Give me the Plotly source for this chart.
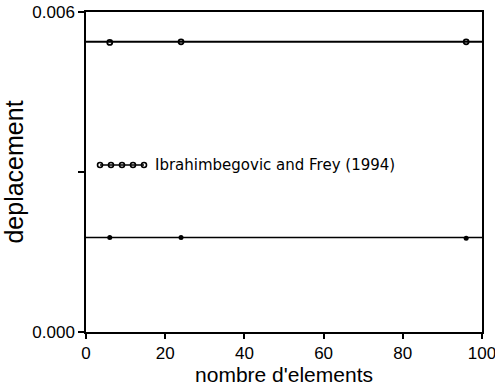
import plotly.graph_objects as go

# Data
n_elements = [6, 24, 96]
depl_upper = [0.00543, 0.00544, 0.00544]
depl_lower = [0.00177, 0.00177, 0.00176]
ref_upper = 0.00544
ref_lower = 0.00177
x_range = [0, 100]
y_range = [0, 0.006]
x_ticks = [0, 20, 40, 60, 80, 100]
y_ticks = [0, 0.003, 0.006]
y_ticktext = ["0.000", "", "0.006"]
legend_label = "Ibrahimbegovic and Frey (1994)"

fig = go.Figure()

# reference horizontal lines across full width
fig.add_trace(go.Scatter(x=x_range, y=[ref_upper, ref_upper], mode="lines",
                         line=dict(color="black", width=2), showlegend=False))
fig.add_trace(go.Scatter(x=x_range, y=[ref_lower, ref_lower], mode="lines",
                         line=dict(color="black", width=1.5), showlegend=False))
# data points
fig.add_trace(go.Scatter(x=n_elements, y=depl_upper, mode="markers",
                         marker=dict(symbol="circle-open", size=5, color="black",
                                     line=dict(width=1.8, color="black")),
                         showlegend=False))
fig.add_trace(go.Scatter(x=n_elements, y=depl_lower, mode="markers",
                         marker=dict(symbol="circle", size=5, color="black"),
                         showlegend=False))

# manual legend sample on overlay axes
leg_x = [0.0354, 0.0631, 0.0909, 0.1187, 0.1465]
leg_y = [0.522] * 5
fig.add_trace(go.Scatter(x=leg_x, y=leg_y, mode="lines+markers", xaxis="x2", yaxis="y2",
                         line=dict(color="black", width=1.5),
                         marker=dict(symbol="circle-open", size=5, color="black",
                                     line=dict(width=1.6, color="black")),
                         showlegend=False))

fig.add_annotation(x=0.169, y=0.522, xref="paper", yref="paper", text=legend_label,
                   showarrow=False, xanchor="left", yanchor="middle",
                   font=dict(family="DejaVu Sans", size=15, color="black"))

fig.update_layout(
    width=495, height=386,
    margin=dict(l=86, r=13, t=12, b=54),
    paper_bgcolor="white", plot_bgcolor="white",
    font=dict(family="Liberation Sans", color="black"),
    xaxis=dict(range=x_range, tickvals=x_ticks, ticks="outside", ticklen=5,
               tickwidth=1.5, tickcolor="black", showgrid=False, zeroline=False,
               showline=True, linecolor="black", linewidth=1.5, mirror=True,
               automargin=False, tickfont=dict(size=17), ticklabeloverflow="allow",
               title=dict(text="nombre d'elements", font=dict(size=21), standoff=0)),
    yaxis=dict(range=y_range, tickvals=y_ticks, ticktext=y_ticktext, ticks="outside",
               ticklen=6, tickwidth=1.5, tickcolor="black", showgrid=False,
               zeroline=False, showline=True, linecolor="black", linewidth=1.5,
               mirror=True, automargin=False, tickfont=dict(size=17),
               title=dict(text="deplacement", font=dict(size=25), standoff=2)),
    xaxis2=dict(range=[0, 1], overlaying="x", visible=False, anchor="y2"),
    yaxis2=dict(range=[0, 1], overlaying="y", visible=False, anchor="x2"),
)

fig.write_html("out.html", config={"displayModeBar": False},
               post_script="document.body.style.margin='0';")
